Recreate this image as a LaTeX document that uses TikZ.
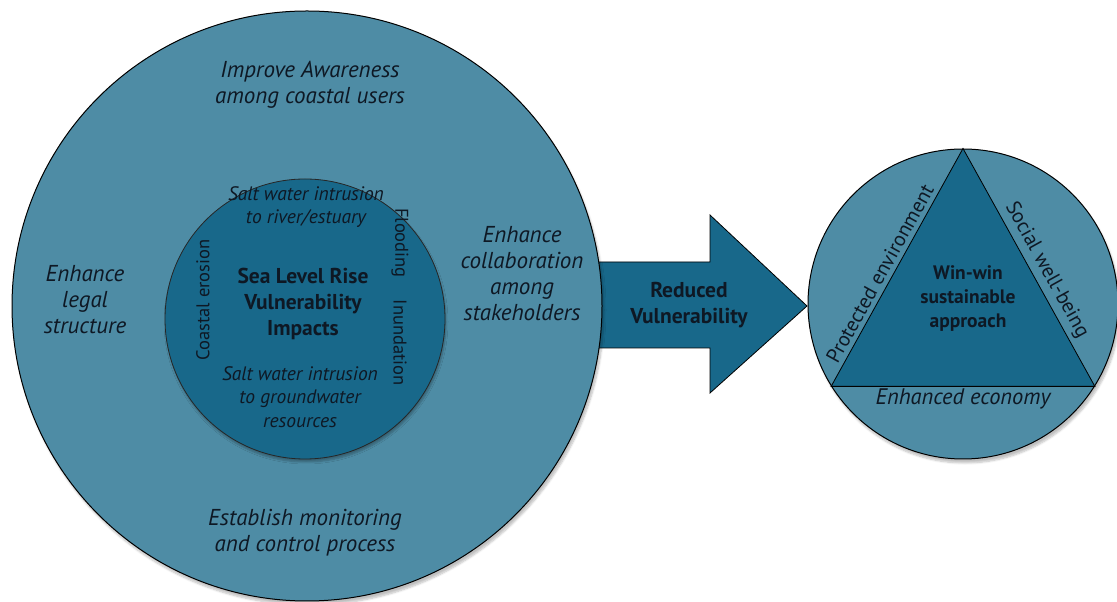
\documentclass[tikz,border=0pt]{standalone}
\usepackage{fontspec}
\setmainfont{PT Sans}
\usetikzlibrary{positioning,shadows.blur}

\definecolor{seapale}{RGB}{78,140,165}
\definecolor{seadeep}{RGB}{24,104,138}
\definecolor{inkblue}{RGB}{14,24,36}

\tikzset{
  ring/.style={circle,draw=black,line width=1pt,fill=seapale,inner sep=0pt,
    blur shadow={shadow xshift=2pt,shadow yshift=-4pt,shadow opacity=25,shadow blur steps=6}},
  core/.style={circle,draw=black!85,line width=0.8pt,fill=seadeep,inner sep=0pt,
    blur shadow={shadow xshift=1pt,shadow yshift=-3pt,shadow opacity=30,shadow blur steps=5}},
  aim/.style={text=inkblue,font=\fontsize{23}{26}\selectfont\itshape,align=center},
  risk/.style={text=inkblue,font=\fontsize{19.5}{23.5}\selectfont\itshape,align=center},
  lead/.style={text=inkblue,font=\fontsize{21.5}{26}\selectfont\bfseries,align=center},
  side/.style={text=inkblue,font=\fontsize{18.5}{20}\selectfont},
  edge/.style={text=inkblue,font=\fontsize{20.5}{22}\selectfont,inner sep=4.5pt},
}

\begin{document}
\begin{tikzpicture}[x=1pt,y=1pt]
\useasboundingbox (0,0) rectangle (1117,602);

% big arrow
\coordinate (tip) at (807,296);
\filldraw[fill=seadeep,draw=black,line width=0.8pt]
  (560,340) -- (710,340) -- (710,387) -- (tip) -- (710,209) -- (710,254) -- (560,254) -- cycle;
\node[lead] (reduced) at (689,297) {Reduced\\Vulnerability};

% left circles
\node[ring,minimum size=590pt] (outer) at (307,296) {};
\node[core,minimum size=280pt] (inner) at (305,283) {};

\node[aim] (aware) at (310,517) {Improve Awareness\\among coastal users};
\node[aim] (legal) at (85,302) {Enhance\\legal\\structure};
\node[aim] (collab) at (522,328) {Enhance\\collaboration\\among\\stakeholders};
\node[aim] (monitor) at (305,69) {Establish monitoring\\and control process};

\node[risk] (river) at (306,395) {Salt water intrusion\\to river/estuary};
\node[risk] (ground) at (300,205) {Salt water intrusion\\to groundwater\\resources};
\node[lead] (slr) at (303,298) {Sea Level Rise\\Vulnerability\\Impacts};
\node[side,rotate=90] (erosion) at (203,302) {Coastal erosion};
\node[side,rotate=-90] (flood) at (400,359) {Flooding};
\node[side,rotate=-90] (inund) at (400,259) {Inundation};

% right circle with triangle
\node[ring,minimum size=310pt] (goal) at (963,298) {};
\filldraw[fill=seadeep,draw=black,line width=0.8pt]
  (goal.90) -- (goal.212) -- (goal.328) -- cycle;
\node[lead,font=\fontsize{19.5}{24}\selectfont\bfseries] (winwin) at (968,303) {Win-win\\sustainable\\approach};
\path (goal.212) -- node[edge,sloped,above,pos=0.45] (envir) {Protected environment} (goal.90);
\path (goal.90) -- node[edge,sloped,above,pos=0.54] (social) {Social well-being} (goal.328);
\path (goal.212) -- node[edge,below,inner sep=2pt,font=\fontsize{22.5}{24}\selectfont\itshape] (econ) {Enhanced economy} (goal.328);
\end{tikzpicture}
\end{document}
